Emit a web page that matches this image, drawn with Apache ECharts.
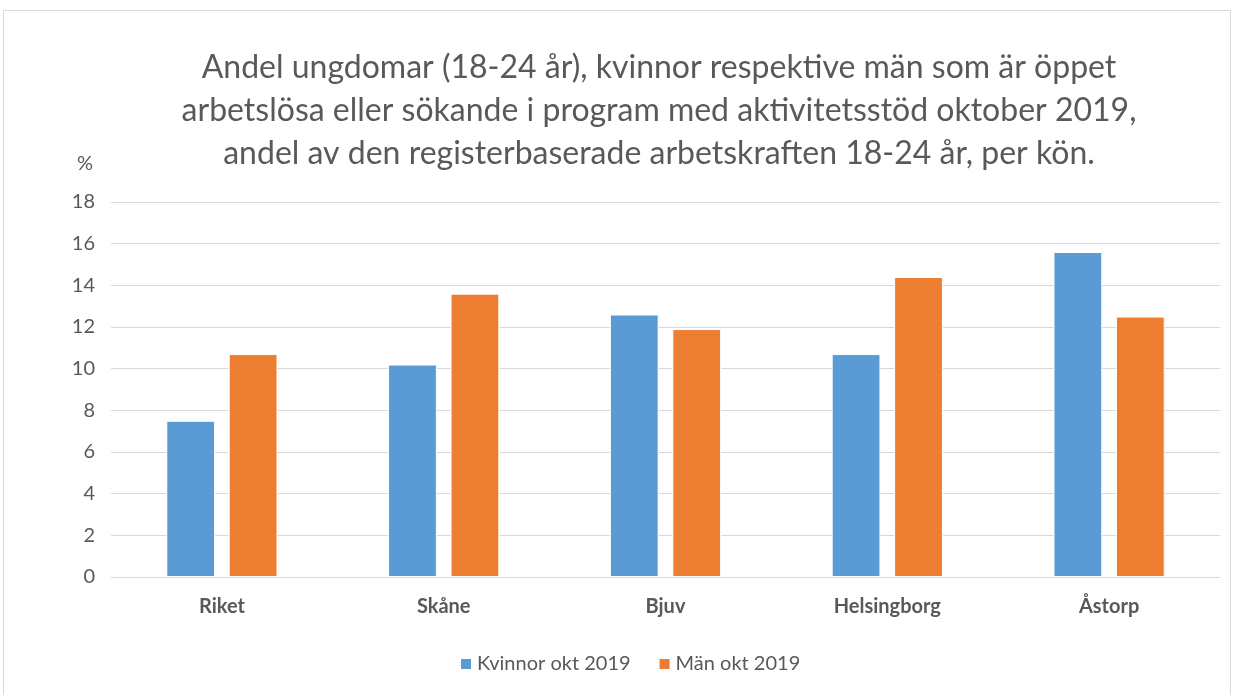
<!DOCTYPE html>
<html>
<head>
<meta charset="utf-8">
<script src="https://cdn.jsdelivr.net/npm/echarts@6/dist/echarts.min.js"></script>
<style>
  html, body { margin: 0; padding: 0; background: #fff; }
  #chart { position: absolute; left: 3px; top: 10px; width: 1228px; height: 690px; border: 1px solid #d9d9d9; box-sizing: border-box; }
</style>
</head>
<body>
<div id="chart"></div>
<script>
  // data
  let categories = ['Riket', 'Skåne', 'Bjuv', 'Helsingborg', 'Åstorp'];
  let kvinnor = [7.5, 10.2, 12.6, 10.7, 15.6];
  let man = [10.7, 13.6, 11.9, 14.4, 12.5];
  let seriesNames = ['Kvinnor okt 2019', 'Män okt 2019'];
  let titleText = 'Andel ungdomar (18-24 år), kvinnor respektive män som är öppet\narbetslösa eller sökande i program med aktivitetsstöd oktober 2019,\nandel av den registerbaserade arbetskraften 18-24 år, per kön.';

  let chart = echarts.init(document.getElementById('chart'));
  let font = 'Lato, sans-serif';

  chart.setOption({
    animation: false,
    title: {
      text: titleText,
      left: 650,
      textAlign: 'center',
      top: 30,
      textStyle: { fontFamily: font, fontSize: 32, fontWeight: 'normal', color: '#595959', lineHeight: 43 }
    },
    legend: {
      data: seriesNames,
      bottom: 20,
      left: 450,
      itemWidth: 12,
      itemHeight: 12,
      itemGap: 27,
      icon: 'rect',
      textStyle: { fontFamily: font, fontSize: 20, color: '#595959' }
    },
    grid: { left: 107, right: 10, top: 191, bottom: 122 },
    xAxis: {
      type: 'category',
      data: categories,
      axisLine: { lineStyle: { color: '#d9d9d9' } },
      axisTick: { show: false },
      axisLabel: { fontFamily: font, fontSize: 20, fontWeight: 'bold', color: '#595959', margin: 20 }
    },
    yAxis: {
      type: 'value',
      min: 0,
      max: 18,
      interval: 2,
      name: '%',
      nameLocation: 'end',
      nameGap: 28,
      nameTextStyle: { fontFamily: font, fontSize: 20, color: '#595959', align: 'right', padding: [0, 18, 0, 0] },
      axisLine: { show: false },
      axisTick: { show: false },
      axisLabel: { fontFamily: font, fontSize: 20, color: '#595959', margin: 16 },
      splitLine: { lineStyle: { color: '#d9d9d9' } }
    },
    series: [
      {
        name: seriesNames[0],
        type: 'bar',
        data: kvinnor,
        barWidth: '22%',
        barGap: '28%',
        itemStyle: { color: '#5b9bd5', borderColor: '#fff', borderWidth: 1 }
      },
      {
        name: seriesNames[1],
        type: 'bar',
        data: man,
        barWidth: '22%',
        itemStyle: { color: '#ed7d31', borderColor: '#fff', borderWidth: 1 }
      }
    ]
  });
</script>
</body>
</html>
